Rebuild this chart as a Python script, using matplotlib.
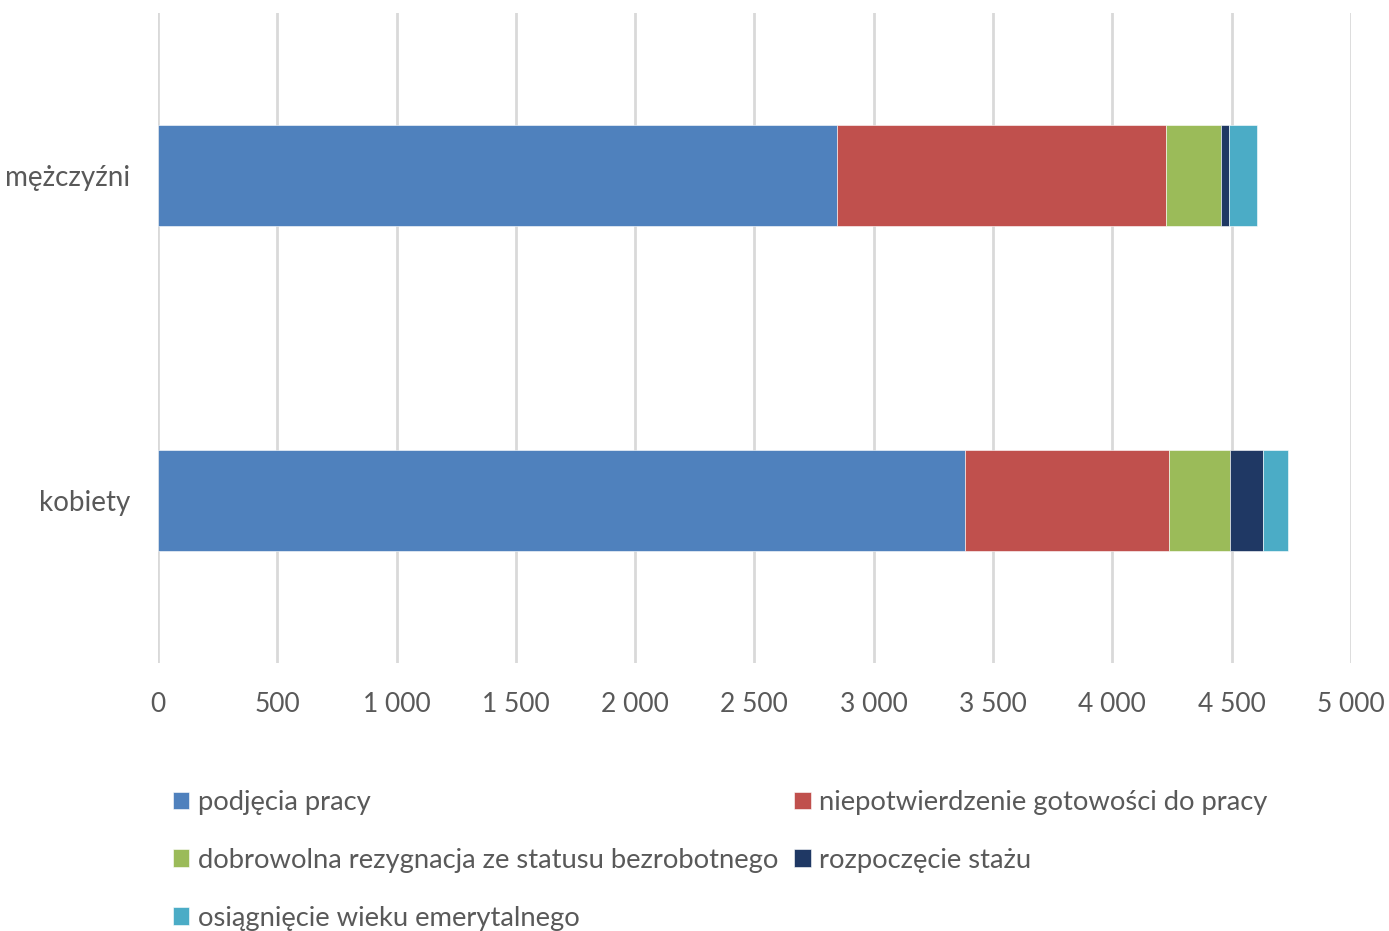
import numpy as np
import matplotlib.pyplot as plt
from matplotlib.ticker import FuncFormatter

plt.rcParams['font.family'] = ['Lato', 'DejaVu Sans']

grupy = ['mężczyźni', 'kobiety']
serie = ['podjęcia pracy',
         'niepotwierdzenie gotowości do pracy',
         'dobrowolna rezygnacja ze statusu bezrobotnego',
         'rozpoczęcie stażu',
         'osiągnięcie wieku emerytalnego']
podjecia = [2847, 3384]
niepotwierdzenie = [1379, 853]
rezygnacja = [229, 257]
staz = [35, 137]
emerytura = [116, 104]
kolory = ['#4F81BD', '#C0504D', '#9BBB59', '#1F3864', '#4BACC6']

wartosci = [podjecia, niepotwierdzenie, rezygnacja, staz, emerytura]

fig = plt.figure(figsize=(13.89, 9.31), dpi=100)
ax = fig.add_axes([0.1137, 0.288, 0.8589, 0.698])

y = np.arange(len(grupy))
lewo = np.zeros(len(grupy))
uchwyty = []
for nazwa, val, kol in zip(serie, wartosci, kolory):
    b = ax.barh(y, val, left=lewo, height=0.31, color=kol, label=nazwa,
                edgecolor='white', linewidth=0.4, zorder=3)
    uchwyty.append(b)
    lewo += np.array(val)

ax.set_ylim(1.5, -0.5)
ax.set_xlim(0, 5000)
ax.set_xticks(np.arange(0, 5001, 500))
ax.xaxis.set_major_formatter(FuncFormatter(lambda v, p: f'{int(v):,}'.replace(',', ' ')))
ax.set_yticks(y)
ax.set_yticklabels(grupy)
ax.grid(axis='x', color='#D9D9D9', linewidth=2, zorder=0)
for s in ax.spines.values():
    s.set_visible(False)
ax.tick_params(length=0, colors='#595959')
ax.tick_params(axis='x', pad=21, labelsize=19)
ax.tick_params(axis='y', pad=20, labelsize=20)

kolejnosc = [0, 2, 4, 1, 3]
fig.legend([uchwyty[i] for i in kolejnosc], [serie[i] for i in kolejnosc],
           ncol=2, loc='upper left', bbox_to_anchor=(0.1245, 0.1515),
           frameon=False, fontsize=19.7, labelcolor='#595959',
           handlelength=0.6, handleheight=0.6, handletextpad=0.3,
           columnspacing=0.6, labelspacing=1.2, borderpad=0, borderaxespad=0)

fig.savefig('out.png', dpi=100)
